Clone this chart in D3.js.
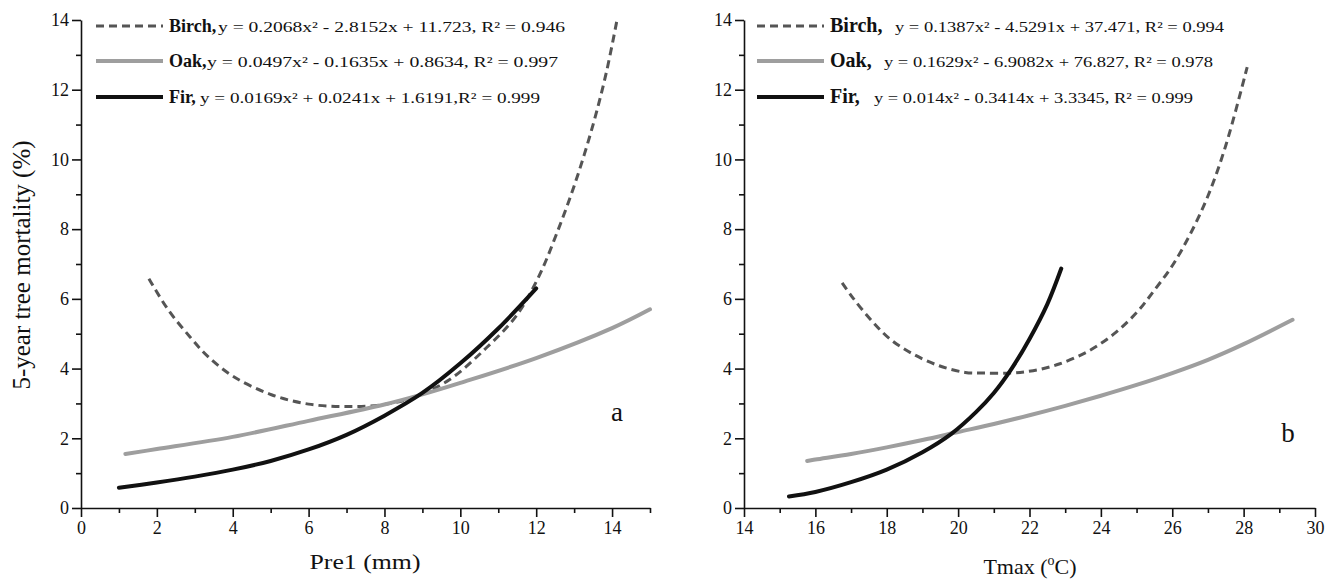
<!DOCTYPE html>
<html>
<head>
<meta charset="utf-8">
<script src="https://cdn.jsdelivr.net/npm/d3@7"></script>
<style>
  body { margin: 0; background: #fff; }
  text { font-family: "Liberation Serif", "Times New Roman", Times, serif; fill: #111; }
</style>
</head>
<body>
<script>
// ---- data ----
// panel a : Pre1 (mm)
const birchA = [[1.79,6.58],[2.29,5.7],[2.88,4.9],[3.37,4.32],[4.05,3.75],[5.02,3.25],[6.0,2.98],[7.0,2.91],[8.0,2.97],[8.73,3.16],[9.71,3.68],[10.68,4.59],[11.46,5.49],[12.05,6.6],[12.55,7.9],[13.05,9.4],[13.5,11.0],[13.85,12.5],[14.13,14.0]];
const oakA = [[1.17,1.55],[2,1.69],[4,2.04],[6,2.5],[8,2.97],[9,3.26],[10,3.59],[12,4.3],[14,5.16],[15,5.7]];
const firA = [[1.0,0.58],[2,0.73],[3,0.9],[4,1.1],[5,1.35],[6,1.68],[7,2.1],[8,2.65],[9,3.3],[10,4.15],[11,5.15],[12,6.3]];

// panel b : Tmax (oC)
const birchB = [[16.75,6.46],[17.05,6.03],[17.58,5.37],[18.1,4.84],[18.73,4.42],[19.47,4.08],[20.2,3.89],[20.73,3.87],[21.47,3.87],[22.1,3.94],[22.83,4.13],[23.67,4.51],[24.41,5.03],[25.04,5.65],[25.5,6.25],[26.0,6.95],[26.5,7.85],[27.0,8.95],[27.5,10.4],[28.1,12.65]];
const oakB = [[15.77,1.35],[16,1.39],[17,1.55],[18,1.74],[19,1.95],[20,2.18],[21,2.41],[22,2.66],[23,2.93],[24,3.22],[25,3.53],[26,3.87],[27,4.25],[28,4.7],[29.37,5.4]];
const firB = [[15.26,0.33],[16,0.46],[17,0.74],[18,1.1],[19,1.6],[19.8,2.12],[20.5,2.75],[21,3.3],[21.5,4.0],[22,4.85],[22.5,5.85],[22.89,6.87]];

const species = ["Birch,", "Oak,", "Fir,"];
const eqA = ["y = 0.2068x\u00b2 - 2.8152x + 11.723, R\u00b2 = 0.946",
             "y = 0.0497x\u00b2 - 0.1635x + 0.8634, R\u00b2 = 0.997",
             "y = 0.0169x\u00b2 + 0.0241x + 1.6191,R\u00b2 = 0.999"];
const eqB = ["y = 0.1387x\u00b2 - 4.5291x + 37.471, R\u00b2 = 0.994",
             "y = 0.1629x\u00b2 - 6.9082x + 76.827, R\u00b2 = 0.978",
             "y = 0.014x\u00b2 - 0.3414x + 3.3345, R\u00b2 = 0.999"];

const xMajorA = [0,2,4,6,8,10,12,14], xMinorA = [1,3,5,7,9,11,13,15];
const xMajorB = [14,16,18,20,22,24,26,28,30], xMinorB = [15,17,19,21,23,25,27,29];
const yMajor = [0,2,4,6,8,10,12,14], yMinor = [1,3,5,7,9,11,13];

// ---- drawing ----
const w = 1338, h = 582;
const svg = d3.select("body").append("svg").attr("width", w).attr("height", h);

const styles = [
  { stroke: "#555", width: 3, dash: "8,5" },
  { stroke: "#9e9e9e", width: 4, dash: null },
  { stroke: "#111", width: 4, dash: null }
];

const yScale = d3.scaleLinear().domain([0, 14]).range([508, 20]);

function panel(opt) {
  const x = d3.scaleLinear().domain(opt.xDomain).range(opt.xRange);
  const g = svg.append("g");

  // axes, major + minor ticks
  const axB = g.append("g").attr("transform", "translate(0,508)");
  axB.call(d3.axisBottom(x).tickValues(opt.major).tickSize(9).tickSizeOuter(0).tickPadding(4).tickFormat(d3.format("d")));
  axB.append("g").call(d3.axisBottom(x).tickValues(opt.minor).tickSize(5).tickSizeOuter(0).tickFormat(""))
     .select(".domain").remove();
  const axL = g.append("g").attr("transform", "translate(" + opt.xRange[0] + ",0)");
  axL.call(d3.axisLeft(yScale).tickValues(yMajor).tickSize(9).tickSizeOuter(0).tickPadding(3).tickFormat(d3.format("d")));
  axL.append("g").call(d3.axisLeft(yScale).tickValues(yMinor).tickSize(5).tickSizeOuter(0).tickFormat(""))
     .select(".domain").remove();
  g.selectAll(".domain, .tick line").attr("stroke", "#111").attr("stroke-width", 1.6);
  g.selectAll(".tick text").attr("font-size", 18).attr("fill", "#111");

  // curves
  const line = d3.line().x(d => x(d[0])).y(d => yScale(d[1])).curve(d3.curveCatmullRom.alpha(0.5));
  [opt.birch, opt.oak, opt.fir].forEach((data, i) => {
    g.append("path").datum(data)
      .attr("d", line)
      .attr("fill", "none")
      .attr("stroke", styles[i].stroke)
      .attr("stroke-width", styles[i].width)
      .attr("stroke-dasharray", styles[i].dash)
      .attr("stroke-linecap", styles[i].dash ? "butt" : "round");
  });

  // legend
  const rows = [26, 61, 97];
  species.forEach((name, i) => {
    g.append("line")
      .attr("x1", opt.legX).attr("x2", opt.legX + 67)
      .attr("y1", rows[i]).attr("y2", rows[i])
      .attr("stroke", styles[i].stroke).attr("stroke-width", styles[i].width)
      .attr("stroke-dasharray", styles[i].dash);
    g.append("text")
      .attr("x", opt.legX + 73).attr("y", rows[i] + 6)
      .attr("font-size", opt.nameSize).attr("font-weight", "bold")
      .text(name);
    g.append("text")
      .attr("x", opt.eqX[i]).attr("y", rows[i] + 6)
      .attr("font-size", 15)
      .attr("textLength", opt.eqW[i]).attr("lengthAdjust", "spacingAndGlyphs")
      .text(opt.eq[i]);
  });

  // panel letter
  g.append("text").attr("x", opt.letter[0]).attr("y", opt.letter[1])
    .attr("font-size", 27).attr("text-anchor", "middle").text(opt.name);

  return x;
}

panel({ xDomain: [0, 15], xRange: [81, 650], major: xMajorA, minor: xMinorA,
        birch: birchA, oak: oakA, fir: firA, eq: eqA,
        eqX: [218, 207, 200], eqW: [347, 351, 340], nameSize: 18,
        legX: 96, name: "a", letter: [617, 421] });
panel({ xDomain: [14, 30], xRange: [744, 1315], major: xMajorB, minor: xMinorB,
        birch: birchB, oak: oakB, fir: firB, eq: eqB,
        eqX: [895, 884, 874], eqW: [329, 329, 319], nameSize: 20,
        legX: 757, name: "b", letter: [1288, 442] });

// axis titles
svg.append("text")
  .attr("transform", "translate(30,265) rotate(-90)")
  .attr("text-anchor", "middle").attr("font-size", 25)
  .text("5-year tree mortality (%)");
svg.append("text").attr("x", 365).attr("y", 569)
  .attr("text-anchor", "middle").attr("font-size", 22)
  .attr("textLength", 111).attr("lengthAdjust", "spacingAndGlyphs")
  .text("Pre1 (mm)");
const tt = svg.append("text").attr("x", 1030).attr("y", 574)
  .attr("text-anchor", "middle").attr("font-size", 22);
tt.append("tspan").text("Tmax (");
tt.append("tspan").attr("font-size", 14).attr("dy", -9).text("o");
tt.append("tspan").attr("dy", 9).text("C)");
</script>
</body>
</html>
